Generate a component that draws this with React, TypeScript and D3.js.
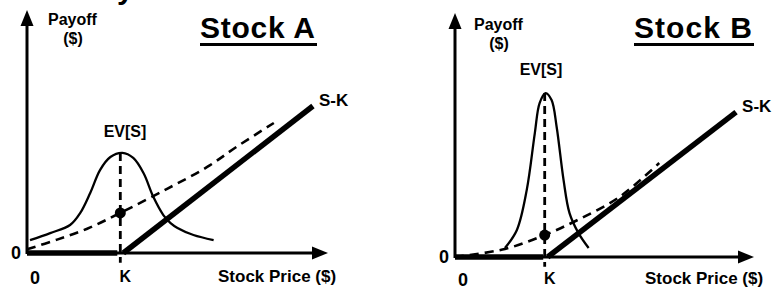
import React, { useRef, useEffect } from "react";
import * as d3 from "d3";

type Pt = [number, number];

// Stock A: wide price distribution
const strikeA = 3.1;
const densityA: Pt[] = [
  [0.1, 0.53], [0.77, 0.82], [1.43, 1.15], [1.77, 1.65], [2.1, 2.47],
  [2.43, 3.42], [2.77, 3.95], [3.17, 4.12], [3.53, 3.91], [3.87, 3.29],
  [4.2, 2.3], [4.53, 1.56], [4.77, 1.23], [5.0, 1.03], [5.53, 0.74], [6.2, 0.53],
];
const expectedA: Pt[] = [
  [0, 0.15], [1, 0.55], [2, 1.0], [3.1, 1.65], [4.67, 2.65], [6, 3.55], [7, 4.4], [8.2, 5.35],
];
const flatA: Pt[] = [[0, 0], [3.0, 0]];
const riseA: Pt[] = [[3.2, 0], [9.5, 6.05]];
const peakA = 4.12;

// Stock B: narrow price distribution
const strikeB = 3.0;
const densityB: Pt[] = [
  [1.67, 0.37], [2.07, 1.11], [2.4, 2.75], [2.67, 5.08], [2.83, 6.31],
  [3.03, 6.72], [3.23, 6.43], [3.4, 5.33], [3.63, 3.16], [3.83, 1.8],
  [4.13, 0.98], [4.47, 0.37],
];
const expectedB: Pt[] = [
  [0, 0], [1.67, 0.33], [3.0, 0.9], [4.17, 1.56], [5.5, 2.46], [6.83, 3.85],
];
const flatB: Pt[] = [[0, 0], [2.95, 0]];
const riseB: Pt[] = [[3.1, 0], [9.4, 5.94]];
const peakB = 6.72;

type PanelCfg = {
  title: string;
  strike: number;
  density: Pt[];
  expected: Pt[];
  flat: Pt[];
  rise: Pt[];
  peak: number;
  xRange: [number, number];
  yRange: [number, number];
  payoffX: number;
  payoffY: number;
  evX: number;
  evY: number;
  titleX: number;
  titleW: number;
  priceX: number;
  bottomY: number;
};

const panels: PanelCfg[] = [
  {
    title: "Stock A", strike: strikeA, density: densityA, expected: expectedA,
    flat: flatA, rise: riseA, peak: peakA,
    xRange: [27, 328], yRange: [253, 10],
    payoffX: 48, payoffY: 25, evX: 125, evY: 137,
    titleX: 200, titleW: 117, priceX: 218, bottomY: 282,
  },
  {
    title: "Stock B", strike: strikeB, density: densityB, expected: expectedB,
    flat: flatB, rise: riseB, peak: peakB,
    xRange: [455, 754], yRange: [257, 13],
    payoffX: 474, payoffY: 30, evX: 541, evY: 75,
    titleX: 634, titleW: 120, priceX: 645, bottomY: 284,
  },
];

const FONT = "'Liberation Sans', Arial, sans-serif";

const App: React.FC = () => {
  const ref = useRef<SVGSVGElement | null>(null);

  useEffect(() => {
    if (!ref.current) return;
    const svg = d3.select(ref.current);
    svg.selectAll("*").remove();

    // tail of a letter from a heading cut off above the picture
    svg.append("text").attr("x", 117).attr("y", -1)
      .attr("font-family", FONT).attr("font-weight", "bold").attr("font-size", 30)
      .text("y");

    panels.forEach((p) => {
      const x = d3.scaleLinear().domain([0, 10]).range(p.xRange);
      const y = d3.scaleLinear().domain([0, 10]).range(p.yRange);
      const g = svg.append("g");
      const line = d3.line<Pt>().x((d) => x(d[0])).y((d) => y(d[1]));
      const smooth = d3.line<Pt>().x((d) => x(d[0])).y((d) => y(d[1])).curve(d3.curveCatmullRom);

      const x0 = x(0), y0 = y(0), xEnd = x(10), yEnd = y(10);

      // axes
      g.append("line").attr("x1", x0).attr("y1", y0 + 1).attr("x2", x0).attr("y2", yEnd + 12)
        .attr("stroke", "#000").attr("stroke-width", 3);
      g.append("line").attr("x1", x0).attr("y1", y0).attr("x2", xEnd - 12).attr("y2", y0)
        .attr("stroke", "#000").attr("stroke-width", 3);
      g.append("path").attr("d", `M${x0},${yEnd} L${x0 - 6.5},${yEnd + 16} L${x0 + 6.5},${yEnd + 16}Z`).attr("fill", "#000");
      g.append("path").attr("d", `M${xEnd},${y0} L${xEnd - 16},${y0 - 6.5} L${xEnd - 16},${y0 + 6.5}Z`).attr("fill", "#000");

      // density curve
      g.append("path").attr("d", smooth(p.density)!).attr("fill", "none")
        .attr("stroke", "#000").attr("stroke-width", 2.3);

      // expected payoff (dashed)
      g.append("path").attr("d", smooth(p.expected)!).attr("fill", "none")
        .attr("stroke", "#000").attr("stroke-width", 2.6).attr("stroke-dasharray", "9,6");

      // strike vertical dashed
      g.append("line").attr("x1", x(p.strike)).attr("x2", x(p.strike))
        .attr("y1", y(p.peak)).attr("y2", y(-0.4))
        .attr("stroke", "#000").attr("stroke-width", 2.8).attr("stroke-dasharray", "8,5");

      // option payoff
      g.append("path").attr("d", line(p.flat)!).attr("stroke", "#000").attr("stroke-width", 5.5).attr("fill", "none");
      g.append("path").attr("d", line(p.rise)!).attr("stroke", "#000").attr("stroke-width", 5.5).attr("fill", "none");

      // EV dot
      const dot = p.expected.find((d) => d[0] === p.strike)!;
      g.append("circle").attr("cx", x(dot[0])).attr("cy", y(dot[1])).attr("r", 5.5).attr("fill", "#000");

      const txt = (tx: number, ty: number, s: string, size: number, anchor = "start") =>
        g.append("text").attr("x", tx).attr("y", ty).attr("font-family", FONT)
          .attr("font-weight", "bold").attr("font-size", size).attr("text-anchor", anchor).text(s);

      txt(p.payoffX, p.payoffY, "Payoff", 16);
      txt(p.payoffX + 25, p.payoffY + 19, "($)", 16, "middle");
      txt(p.evX, p.evY, "EV[S]", 16, "middle");
      const last = p.rise[p.rise.length - 1];
      txt(x(last[0]) + 6, y(last[1]), "S-K", 17);
      txt(x0 - 11, y0 + 6, "0", 18, "middle");
      txt(x0 + 8, p.bottomY + 2, "0", 18, "middle");
      txt(x(p.strike) + 5, p.bottomY, "K", 16, "middle");
      txt(p.priceX, p.bottomY, "Stock Price ($)", 17);
      const t = txt(p.titleX, 38, p.title, 30);
      t.attr("textLength", p.titleW - 2);
      g.append("rect").attr("x", p.titleX).attr("y", 43).attr("width", p.titleW).attr("height", 3).attr("fill", "#000");
    });
  }, []);

  return (
    <svg ref={ref} width={774} height={289}
      style={{ position: "absolute", left: 0, top: 0, background: "#fff" }} />
  );
};

export default App;
